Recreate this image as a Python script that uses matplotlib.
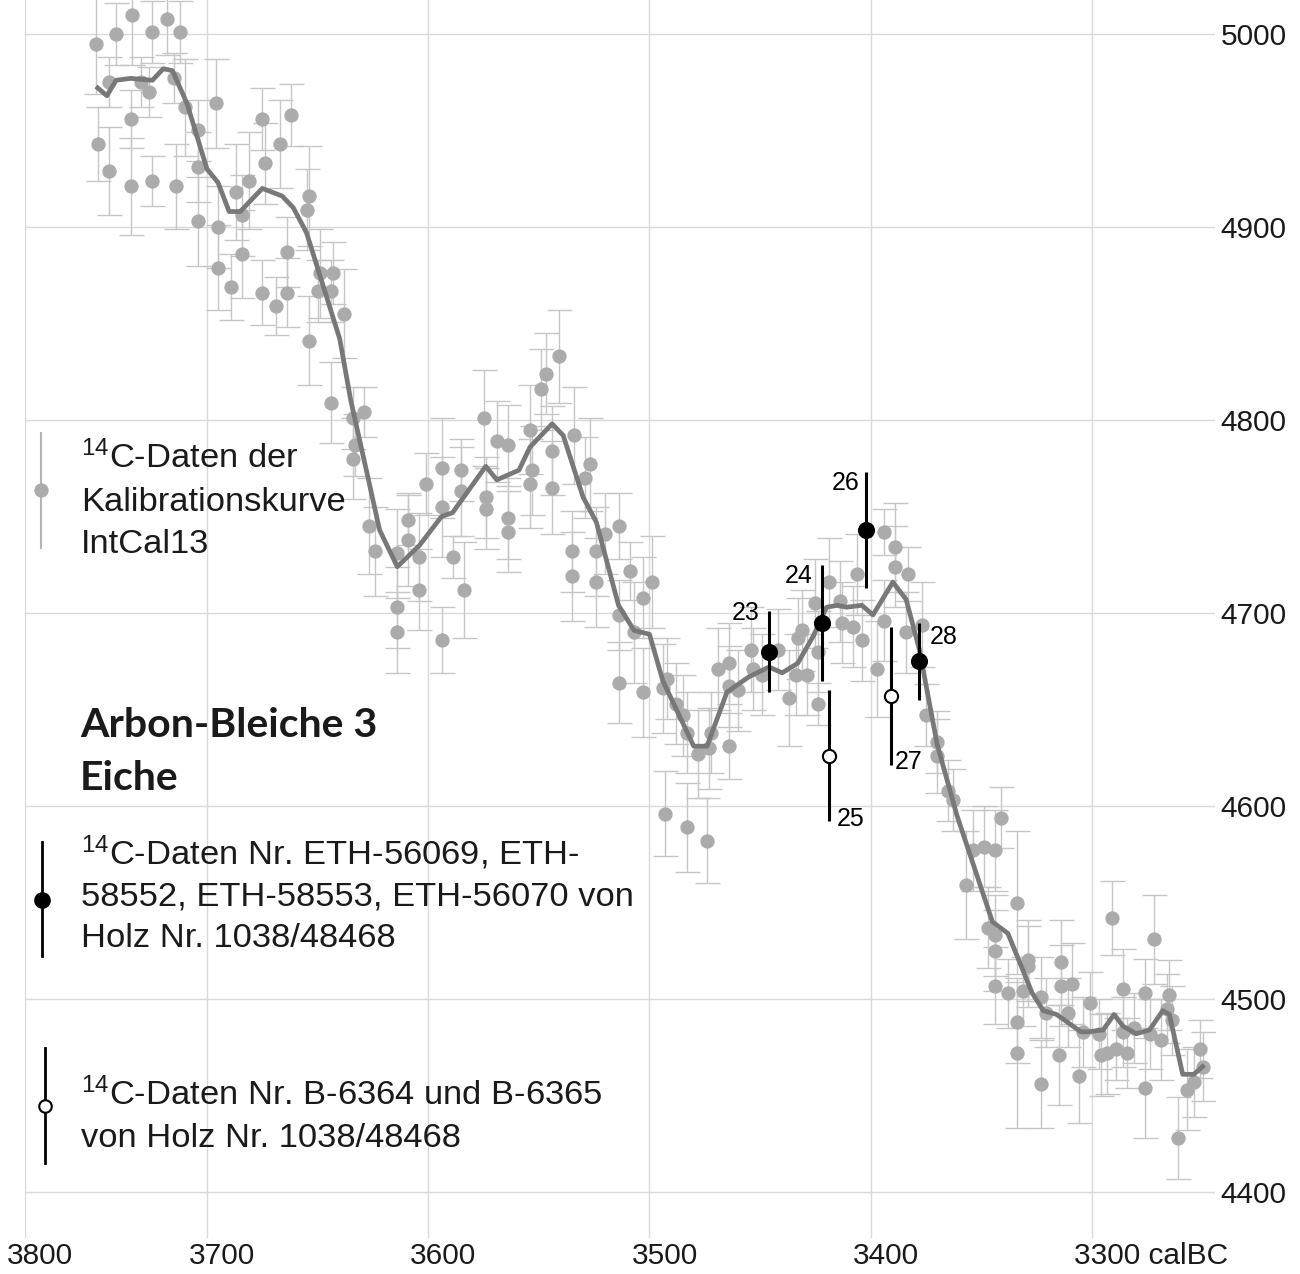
import matplotlib.pyplot as plt
import matplotlib.transforms as mtransforms
import numpy as np
from matplotlib.lines import Line2D

plt.rcParams["font.family"] = ["Liberation Sans", "DejaVu Sans"]

# IntCal13 calibration data (cal BC, 14C age BP, 1 sigma)
cal_year = [3761, 3754, 3750, 3741, 3730, 3722, 3715, 3718, 3736, 3732,
            3742, 3760, 3754, 3742, 3730, 3717, 3712, 3705, 3705, 3705,
            3696, 3695, 3695, 3687, 3684, 3684, 3689, 3681, 3675, 3674,
            3667, 3662, 3675, 3669, 3664, 3664, 3654, 3655, 3654, 3649,
            3643, 3650, 3644, 3638, 3644, 3634, 3629, 3633, 3634, 3627,
            3624, 3614, 3614, 3614, 3609, 3609, 3604, 3604, 3601, 3594,
            3594, 3594, 3589, 3585, 3585, 3584, 3575, 3574, 3574, 3569,
            3564, 3564, 3564, 3554, 3553, 3554, 3549, 3547, 3541, 3544,
            3544, 3534, 3535, 3535, 3529, 3527, 3524, 3524, 3520, 3514,
            3514, 3514, 3509, 3507, 3503, 3503, 3499, 3494, 3492, 3488,
            3485, 3483, 3478, 3473, 3472, 3493, 3483, 3474, 3469, 3464,
            3464, 3460, 3464, 3454, 3453, 3449, 3442, 3437, 3433, 3431,
            3434, 3429, 3424, 3424, 3425, 3419, 3414, 3413, 3408, 3406,
            3404, 3397, 3394, 3394, 3389, 3389, 3383, 3384, 3377, 3375,
            3370, 3370, 3365, 3363, 3357, 3354, 3349, 3344, 3341, 3347,
            3344, 3344, 3344, 3334, 3338, 3334, 3334, 3329, 3329, 3331,
            3323, 3323, 3321, 3314, 3314, 3309, 3311, 3315, 3306, 3304,
            3301, 3297, 3296, 3293, 3291, 3289, 3286, 3286, 3284, 3281,
            3276, 3276, 3274, 3272, 3269, 3265, 3266, 3264, 3261, 3257,
            3254, 3251, 3250]
cal_bp = [4995, 4975, 5000, 5010, 5001, 5008, 5001, 4977, 4975, 4970,
          4956, 4943, 4929, 4921, 4924, 4921, 4962, 4950, 4931, 4903,
          4964, 4900, 4879, 4918, 4906, 4886, 4869, 4924, 4956, 4933,
          4943, 4958, 4866, 4859, 4887, 4866, 4916, 4909, 4841, 4876,
          4876, 4867, 4867, 4855, 4809, 4801, 4804, 4787, 4780, 4745,
          4732, 4731, 4703, 4690, 4748, 4738, 4729, 4712, 4767, 4775,
          4755, 4686, 4729, 4774, 4763, 4712, 4801, 4760, 4754, 4789,
          4787, 4749, 4742, 4795, 4774, 4767, 4816, 4824, 4833, 4784,
          4765, 4792, 4732, 4719, 4770, 4777, 4732, 4716, 4741, 4745,
          4699, 4664, 4722, 4690, 4708, 4659, 4716, 4661, 4666, 4653,
          4647, 4638, 4627, 4630, 4638, 4596, 4589, 4582, 4671, 4674,
          4662, 4660, 4631, 4681, 4671, 4668, 4681, 4656, 4687, 4691,
          4668, 4668, 4680, 4653, 4705, 4716, 4706, 4695, 4693, 4720,
          4686, 4671, 4742, 4696, 4734, 4724, 4720, 4690, 4694, 4647,
          4633, 4626, 4608, 4603, 4559, 4577, 4579, 4577, 4594, 4537,
          4533, 4525, 4507, 4550, 4503, 4488, 4472, 4520, 4517, 4504,
          4501, 4456, 4493, 4519, 4507, 4508, 4493, 4471, 4460, 4483,
          4498, 4482, 4471, 4472, 4542, 4474, 4505, 4483, 4472, 4485,
          4503, 4454, 4482, 4531, 4479, 4502, 4495, 4489, 4428, 4453,
          4457, 4474, 4465]
cal_err = [26, 13, 16, 26, 16, 19, 16, 13, 13, 13,
           15, 19, 23, 25, 13, 22, 25, 16, 18, 23,
           23, 21, 22, 25, 21, 23, 17, 25, 16, 21,
           23, 16, 17, 15, 18, 18, 26, 21, 23, 23,
           16, 16, 16, 23, 21, 16, 13, 16, 21, 25,
           23, 23, 21, 21, 13, 24, 23, 21, 16, 26,
           26, 17, 11, 16, 23, 25, 25, 21, 21, 21,
           21, 21, 21, 23, 23, 23, 21, 21, 24, 23,
           24, 25, 21, 23, 21, 24, 23, 23, 21, 17,
           18, 21, 15, 26, 21, 23, 24, 23, 21, 21,
           21, 21, 23, 21, 21, 22, 23, 22, 21, 21,
           21, 21, 17, 22, 21, 21, 21, 25, 21, 21,
           21, 21, 21, 11, 23, 23, 21, 21, 21, 21,
           21, 25, 12, 21, 23, 21, 14, 21, 22, 16,
           16, 19, 16, 16, 28, 21, 21, 21, 16, 21,
           21, 21, 20, 37, 18, 21, 39, 21, 21, 18,
           21, 23, 18, 22, 21, 21, 18, 26, 24, 18,
           16, 18, 21, 21, 19, 16, 21, 18, 18, 18,
           18, 26, 18, 23, 21, 18, 18, 18, 21, 21,
           18, 15, 18]

# calibration curve
curve_year = [3760, 3755, 3750, 3742, 3730, 3724, 3719, 3711, 3700, 3695,
              3690, 3685, 3675, 3666, 3661, 3655, 3640, 3635, 3627, 3622,
              3614, 3604, 3594, 3589, 3574, 3569, 3559, 3554, 3544, 3539,
              3530, 3524, 3514, 3507, 3500, 3494, 3480, 3474, 3465, 3455,
              3446, 3440, 3433, 3426, 3420, 3415, 3411, 3404, 3399, 3390,
              3384, 3378, 3370, 3361, 3345, 3338, 3327, 3322, 3316, 3305,
              3302, 3295, 3290, 3286, 3280, 3274, 3268, 3265, 3259, 3254,
              3250]
curve_bp = [4972, 4968, 4976, 4977, 4976, 4982, 4981, 4964, 4930, 4923,
            4908, 4908, 4920, 4916, 4910, 4897, 4842, 4810, 4769, 4743,
            4724, 4735, 4750, 4752, 4776, 4769, 4774, 4786, 4798, 4792,
            4760, 4747, 4704, 4691, 4689, 4665, 4631, 4631, 4659, 4667,
            4672, 4669, 4674, 4688, 4703, 4704, 4703, 4704, 4699, 4716,
            4707, 4681, 4632, 4595, 4540, 4534, 4503, 4494, 4492, 4483,
            4483, 4484, 4492, 4486, 4482, 4484, 4494, 4492, 4461, 4461,
            4465]

# dated samples of Holz Nr. 1038/48468
sample_no = [23, 24, 25, 26, 27, 28]
sample_year = [3446, 3422, 3419, 3402, 3391, 3378]
sample_bp = [4680, 4695, 4626, 4743, 4657, 4675]
sample_err = [21, 30, 34, 30, 36, 20]
sample_eth = [True, True, False, True, False, True]
# label offsets in pixels
label_off = {23: (-23, 39), 24: (-23, 47), 25: (22, -63),
             26: (-21, 47), 27: (18, -66), 28: (24, 24)}

x_ticks = [3800, 3700, 3600, 3500, 3400, 3300]
x_labels = ["3800", "3700", "3600", "3500", "3400", "3300 calBC"]
y_ticks = [4400, 4500, 4600, 4700, 4800, 4900, 5000]

W, H = 1300, 1274
fig = plt.figure(figsize=(W / 100, H / 100), dpi=100)
ax = fig.add_axes([25 / W, 1 - 1238 / H, 1190 / W, 1238 / H])

# the first century is drawn narrower than the others
K = 182 / 221.25


def fwd(x):
    x = np.asarray(x, dtype=float)
    return np.where(x > 3700, 3700 + (x - 3700) * K, x)


def inv(y):
    y = np.asarray(y, dtype=float)
    return np.where(y > 3700, 3700 + (y - 3700) / K, y)


ax.set_xscale("function", functions=(fwd, inv))
ax.set_xlim(3800, 3244.4)
ax.set_ylim(4376.2, 5017.6)

ax.errorbar(cal_year, cal_bp, yerr=cal_err, fmt="o", ms=10.3, mfc="#ababab",
            mec="none", ecolor="#c6c6c6", elinewidth=1, capsize=9, capthick=1,
            zorder=2)
ax.plot(curve_year, curve_bp, color="#787878", lw=3.4, zorder=3)

for no, yr, bp, err, eth in zip(sample_no, sample_year, sample_bp, sample_err, sample_eth):
    ax.errorbar([yr], [bp], yerr=[err], fmt="o", ms=10.8 if eth else 9.5,
                mfc="black" if eth else "white", mec="black", mew=1.5,
                ecolor="black", elinewidth=2.2, capsize=0, zorder=5)
    ax.annotate(str(no), (yr, bp), xytext=label_off[no], textcoords="offset pixels",
                ha="center", va="center", fontsize=18, zorder=6)

ax.set_xticks(x_ticks)
ax.set_xticklabels(x_labels)
ax.set_yticks(y_ticks)
ax.yaxis.tick_right()
ax.tick_params(axis="both", length=0, labelsize=21.5, colors="#1a1a1a")
ax.tick_params(axis="x", pad=3)
ax.tick_params(axis="y", pad=4)
shift = mtransforms.ScaledTranslation(-18 / 100, 0, fig.dpi_scale_trans)
for lab in ax.get_xticklabels():
    lab.set_horizontalalignment("left")
    lab.set_transform(lab.get_transform() + shift)

ax.grid(True, color="#d9d9d9", lw=1)
ax.set_axisbelow(True)
for s in ax.spines.values():
    s.set_visible(False)


def fx(px):
    return px / W


def fy(py):
    return 1 - py / H


def legend_glyph(x, y0, y1, ym, line_color, face, edge, ms, lw):
    fig.add_artist(Line2D([fx(x), fx(x)], [fy(y0), fy(y1)], color=line_color,
                          lw=lw, transform=fig.transFigure))
    fig.add_artist(Line2D([fx(x)], [fy(ym)], marker="o", ms=ms, mfc=face,
                          mec=edge, mew=1.5, transform=fig.transFigure))


legend_glyph(41, 433, 548, 490, "#b5b5b5", "#ababab", "none", 10.3, 1.5)
legend_glyph(42, 842, 956, 900, "black", "black", "black", 10.5, 2)
legend_glyph(45, 1048, 1163, 1106, "black", "white", "black", 9, 2)

sup = r"$\mathregular{^{14}}$"
legend_lines = [
    (468, sup + "C-Daten der"), (511, "Kalibrationskurve"), (553, "IntCal13"),
    (865, sup + "C-Daten Nr. ETH-56069, ETH-"),
    (906, "58552, ETH-58553, ETH-56070 von"), (947, "Holz Nr. 1038/48468"),
    (1105, sup + "C-Daten Nr. B-6364 und B-6365"), (1147, "von Holz Nr. 1038/48468"),
]
for base, txt in legend_lines:
    fig.text(fx(81), fy(base), txt, fontsize=24.8, va="baseline", ha="left",
             color="#1a1a1a")

for base, txt in [(737, "Arbon-Bleiche 3"), (790, "Eiche")]:
    fig.text(fx(80), fy(base), txt, fontsize=29.5, fontweight="bold",
             family=["Lato", "DejaVu Sans"], va="baseline", ha="left",
             color="#1a1a1a")

fig.savefig("out.png", dpi=100)
